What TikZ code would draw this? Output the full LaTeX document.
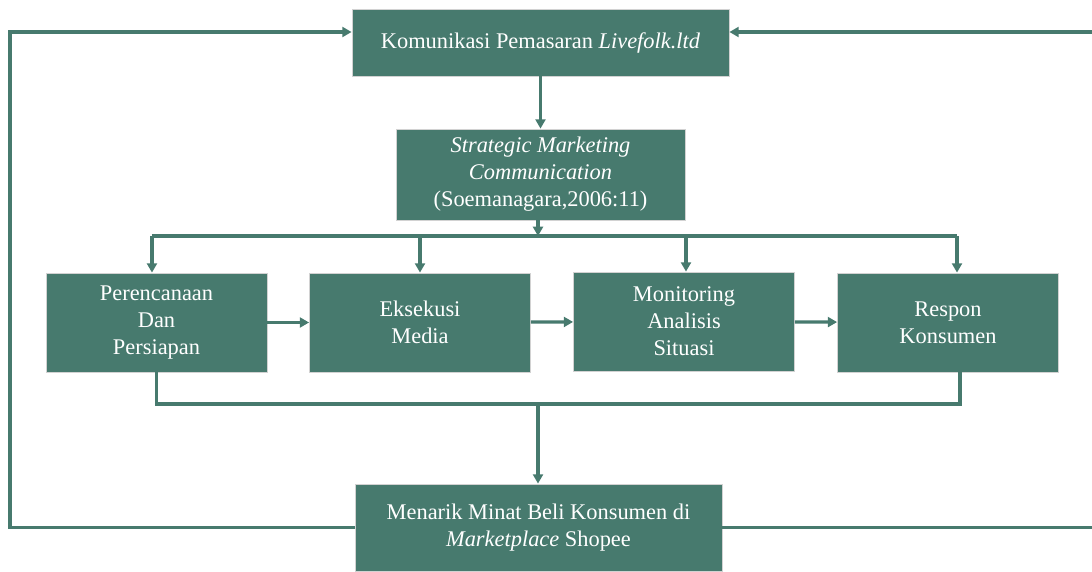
\documentclass[tikz,border=0pt]{standalone}
\usepackage{fontspec}
\setmainfont{Liberation Serif}
\usetikzlibrary{arrows.meta}
\definecolor{teal}{RGB}{71,122,110}

\begin{document}
\begin{tikzpicture}[x=0.75pt,y=-0.75pt,
  box/.style={draw=gray!35, line width=0.6pt, fill=teal, text=white, align=center,
    inner sep=0pt, font=\fontsize{16.8}{20.2}\selectfont},
  link/.style={draw=teal, line width=2.4pt},
  linkarrow/.style={link, -{Triangle[length=7pt,width=7.5pt]}}]
\useasboundingbox (0,0) rectangle (1092,571);
\clip (0,0) rectangle (1092,571);
\node[box, minimum width=282.75pt, minimum height=50.25pt] (1) at (540.5,42.5) {Komunikasi Pemasaran \textit{Livefolk.ltd}};
\node[box, minimum width=216.75pt, minimum height=68.25pt] (2) at (540.5,174.5) {\textit{Strategic Marketing}\\\textit{Communication}\\(Soemanagara,2006:11)};
\node[box, minimum width=165.75pt, minimum height=74.25pt] (3) at (156.5,322.5) {Perencanaan\\Dan\\Persiapan};
\node[box, minimum width=165.75pt, minimum height=74.25pt] (4) at (420,322.5) {Eksekusi\\Media};
\node[box, minimum width=165.75pt, minimum height=74.25pt] (5) at (684,321.5) {Monitoring\\Analisis\\Situasi};
\node[box, minimum width=165.75pt, minimum height=74.25pt] (6) at (948,322.5) {Respon\\Konsumen};
\node[box, minimum width=275.25pt, minimum height=65.25pt] (7) at (538.5,527.5) {Menarik Minat Beli Konsumen di\\\textit{Marketplace} Shopee};
\coordinate (b) at (538,236);
\coordinate (c) at (538,404);
\coordinate (lc) at (10,32);
\coordinate (rc) at (1110,32);
\path[linkarrow] (1) -- (2);
\path[linkarrow] (2.south -| b) -- (b);
\path[link] ([xshift=-3.4pt]3.north |- b) -- ([xshift=6.75pt]6.north |- b);
\path[linkarrow] ([xshift=-3.4pt]3.north |- b) -- ([xshift=-3.4pt]3.north);
\path[linkarrow] (4.north |- b) -- (4.north);
\path[linkarrow] ([xshift=1.5pt]5.north |- b) -- ([xshift=1.5pt]5.north);
\path[linkarrow] ([xshift=6.75pt]6.north |- b) -- ([xshift=6.75pt]6.north);
\path[linkarrow] (3) -- (4);
\path[linkarrow] (4) -- (5);
\path[linkarrow] (5) -- (6);
\path[link] (3.south) |- ([xshift=9pt]6.south |- c) -- ([xshift=9pt]6.south);
\path[linkarrow] (c) -- (7.north -| c);
\path[linkarrow] (7.west) -| (lc) -- (1.west |- lc);
\path[linkarrow] (7.east) -| (rc) -- (1.east |- rc);
\end{tikzpicture}
\end{document}
